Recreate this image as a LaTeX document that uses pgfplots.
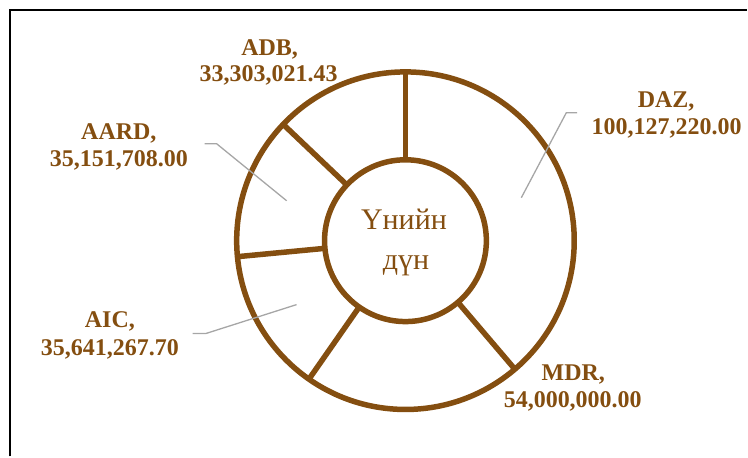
\documentclass[border=0pt]{standalone}
\usepackage{pgfplots}
\pgfplotsset{compat=1.18}
\usepackage{pgfplotstable}
\usepackage{fontspec}
\setmainfont{Liberation Serif}
\definecolor{brn}{RGB}{132,78,16}
\definecolor{leader}{RGB}{166,166,166}

% values, clockwise from the top
\pgfplotstableread{
label value
DAZ 100127220.00
MDR 54000000.00
AIC 35641267.70
AARD 35151708.00
ADB 33303021.43
}\donutdata

\pgfplotsset{ringsep/.style={brn, line width=5.5bp, mark=none}}

\gdef\total{0}
\pgfplotsforeachungrouped \i in {0,...,4}{%
  \pgfplotstablegetelem{\i}{value}\of\donutdata
  \let\curval\pgfplotsretval
  \begingroup
  \pgfkeys{/pgf/fpu=true,/pgf/fpu/output format=fixed}%
  \pgfmathparse{\total+\curval}%
  \xdef\total{\pgfmathresult}%
  \endgroup
}
\gdef\cum{0}
\gdef\seplist{}
\pgfplotsforeachungrouped \i in {0,...,4}{%
  \pgfplotstablegetelem{\i}{value}\of\donutdata
  \let\curval\pgfplotsretval
  \begingroup
  \pgfkeys{/pgf/fpu=true,/pgf/fpu/output format=fixed}%
  \pgfmathparse{\cum+\curval}\xdef\cum{\pgfmathresult}%
  \pgfmathparse{90-360*\cum/\total}\xdef\ang{\pgfmathresult}%
  \endgroup
  \pgfmathsetmacro\xa{406+81*cos(\ang)}%
  \pgfmathsetmacro\ya{241-81*sin(\ang)}%
  \pgfmathsetmacro\xb{406+169*cos(\ang)}%
  \pgfmathsetmacro\yb{241-169*sin(\ang)}%
  \edef\tmp{\noexpand\addplot[ringsep] coordinates {(\xa,\ya) (\xb,\yb)};}%
  \xdef\seplist{\unexpanded\expandafter{\seplist}\unexpanded\expandafter{\tmp}}%
}

\begin{document}
\begin{tikzpicture}
\begin{axis}[
  width=748bp, height=457bp, scale only axis,
  xmin=0, xmax=748, ymin=0, ymax=457, y dir=reverse,
  hide axis, clip=false,
]
\path (axis cs:0,0) rectangle (axis cs:748,457);
% frame
\draw[black, line width=2bp] (axis cs:10,457) -- (axis cs:10,10) -- (axis cs:748,10);
% separators from data
\seplist
% ring
\draw[brn, line width=5.5bp] (axis cs:406,241) circle[radius=169];
\draw[brn, line width=5.5bp] (axis cs:406,241) circle[radius=81];
% leaders
\draw[leader, line width=1.3bp] (axis cs:205,144) -- (axis cs:217,144) -- (axis cs:287,201);
\draw[leader, line width=1.3bp] (axis cs:578,113) -- (axis cs:567,113) -- (axis cs:522,198);
\draw[leader, line width=1.3bp] (axis cs:193,334) -- (axis cs:206,334) -- (axis cs:297,305);
% labels
\begin{scope}[every node/.style={text=brn, font=\fontsize{24bp}{28bp}\selectfont\bfseries, anchor=base, inner sep=0pt}]
\node at (axis cs:270,56) {ADB,};
\node at (axis cs:269,81.7) {33,303,021.43};
\node at (axis cs:119,140) {AARD,};
\node at (axis cs:119,166.7) {35,151,708.00};
\node at (axis cs:667,108) {DAZ,};
\node at (axis cs:667.5,135) {100,127,220.00};
\node at (axis cs:110,328) {AIC,};
\node at (axis cs:110,356) {35,641,267.70};
\node at (axis cs:574,381) {MDR,};
\node at (axis cs:573.5,408) {54,000,000.00};
\end{scope}
\begin{scope}[every node/.style={text=brn, font=\fontsize{30bp}{36bp}\selectfont, anchor=base, inner sep=0pt}]
\node at (axis cs:404.5,230) {Үнийн};
\node at (axis cs:406.5,270) {дүн};
\end{scope}
\end{axis}
\end{tikzpicture}
\end{document}
